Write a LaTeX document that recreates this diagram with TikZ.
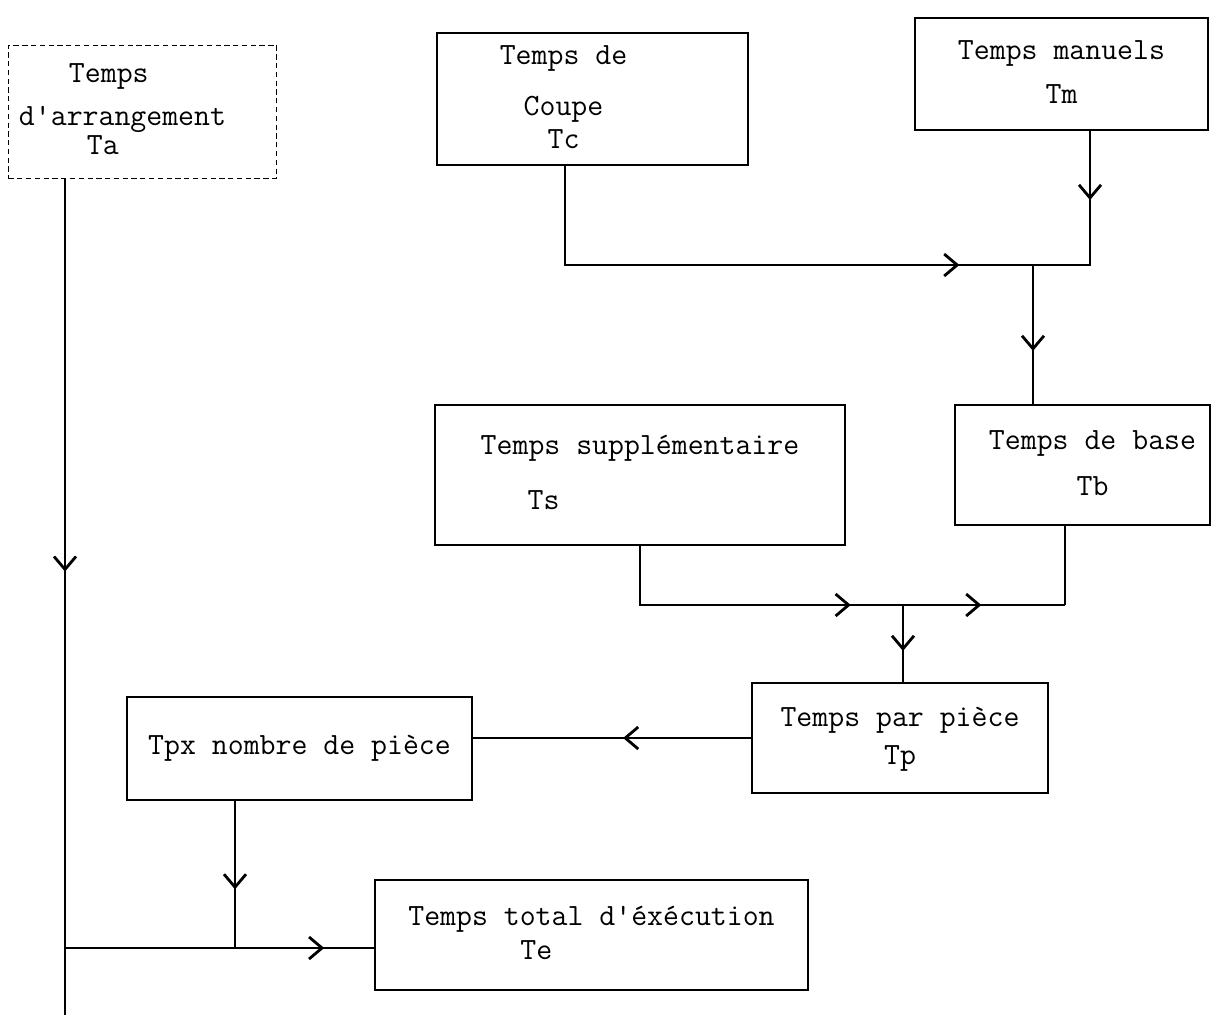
\documentclass[tikz,border=0pt]{standalone}
\usepackage{fontspec}
\usetikzlibrary{arrows.meta,decorations.markings}

\begin{document}
\begin{tikzpicture}[
    font=\ttfamily\fontsize{17.6}{20.5}\selectfont,
    box/.style={draw, line width=1.6pt, inner sep=0pt},
    dotbox/.style={draw, densely dashed, line width=0.5pt, inner sep=0pt},
    flow/.style={line width=1.6pt},
    arrowat/.style={postaction={decorate, decoration={markings,
        mark=at position #1 with {\arrow{Straight Barb[length=2.6mm,width=4.4mm]}}}}}
]

    \useasboundingbox (0,0) rectangle (24.64,-20.46);

    \node[dotbox, minimum width=5.3cm, minimum height=2.66cm] (ta) at (2.85,-2.23) {
        \begin{tabular}{l}
            \hspace{1cm}Temps \\[0.14cm]
            d'arrangement \\[-0.14cm]
            \hspace{1.36cm}Ta \\
        \end{tabular}\hspace*{0.8cm}
    };

    \node[box, minimum width=6.22cm, minimum height=2.64cm] (tc) at (11.85,-1.98) {
        \begin{tabular}{c}
            Temps de \\[0.3cm]
            Coupe \\[-0.06cm]
            Tc \\
        \end{tabular}\hspace*{1.16cm}
    };

    \node[box, minimum width=5.86cm, minimum height=2.24cm] (tm) at (21.23,-1.48) {
        \begin{tabular}{c}
            Temps manuels \\[0.16cm]
            Tm \\
        \end{tabular}
    };

    \node[box, minimum width=5.1cm, minimum height=2.4cm] (tb) at (21.65,-9.3) {
        \hspace*{0.4cm}\begin{tabular}{c}
            Temps de base \\[0.2cm]
            Tb \\
        \end{tabular}
    };

    \node[box, minimum width=8.2cm, minimum height=2.8cm] (ts) at (12.8,-9.5) {
        \begin{tabular}{l}
            Temps supplémentaire \\[0.38cm]
            \hspace{0.94cm}Ts \\
        \end{tabular}
    };

    \node[box, minimum width=5.92cm, minimum height=2.2cm] (tp) at (18.0,-14.76) {
        \begin{tabular}{c}
            Temps par pièce \\[0.04cm]
            Tp \\
        \end{tabular}
    };

    \node[box, minimum width=6.9cm, minimum height=2.06cm] (tpx) at (5.99,-14.97) {Tpx nombre de pièce};

    \node[box, minimum width=8.66cm, minimum height=2.2cm] (te) at (11.83,-18.7) {
        \begin{tabular}{l}
            Temps total d'éxécution \\[-0.04cm]
            \hspace{2.24cm}Te \\
        \end{tabular}
    };

    \coordinate (top join) at (20.66,-5.3);
    \coordinate (mid join) at (18.06,-12.1);
    \coordinate (right join) at (21.3,-12.1);
    \coordinate (low join) at (4.7,-18.96);
    \coordinate (left join) at (1.3,-18.96);
    \coordinate (foot) at (1.3,-20.3);

    \draw[flow, arrowat=0.87] ([xshift=-0.55cm]tc.south) |- (top join);
    \draw[flow, arrowat=0.36] ([xshift=0.57cm]tm.south) |- (top join);
    \draw[flow, arrowat=0.62] (top join) -- (top join |- tb.north);

    \draw[flow, arrowat=0.557, arrowat=0.827] (ts.south) |- (right join);
    \draw[flow] (tb.south -| right join) -- (right join);
    \draw[flow, arrowat=0.6] (mid join) -- (mid join |- tp.north);

    \draw[flow, arrowat=0.46] (tp.west) -- (tp.west -| tpx.east);
    \draw[flow, arrowat=0.6] (tpx.south -| low join) -- (low join);

    \draw[flow, arrowat=0.47] (ta.south -| foot) -- (foot);
    \draw[flow, arrowat=0.84] (left join) -- (left join -| te.west);

\end{tikzpicture}
\end{document}
